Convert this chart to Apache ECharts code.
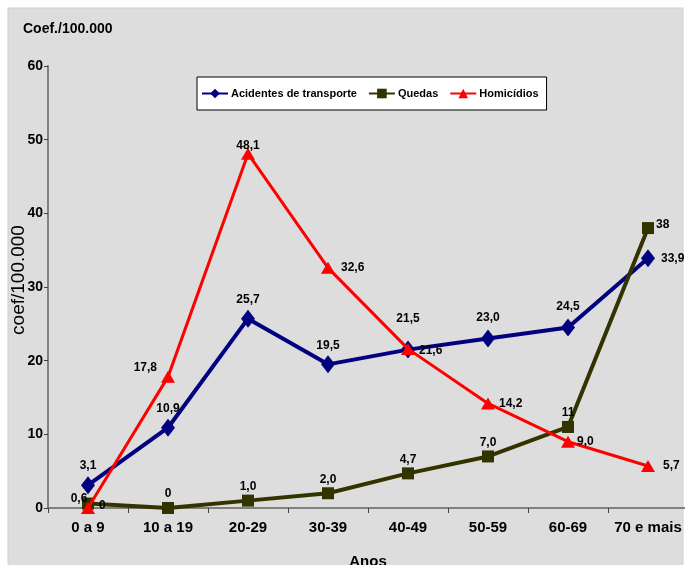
<!DOCTYPE html>
<html>
<head>
<meta charset="utf-8">
<script src="https://cdn.jsdelivr.net/npm/echarts@6/dist/echarts.min.js"></script>
<style>
  html, body { margin: 0; padding: 0; background: #ffffff; }
  #chart { width: 685px; height: 565px; }
</style>
</head>
<body>
<div id="chart"></div>
<script>
// Age groups
const categories = ['0 a 9', '10 a 19', '20-29', '30-39', '40-49', '50-59', '60-69', '70 e mais'];

// Rates per 100.000, as printed on each point
const acidentesLabels = ['3,1', '10,9', '25,7', '19,5', '21,5', '23,0', '24,5', '33,9'];
const quedasLabels = ['0,6', '0', '1,0', '2,0', '4,7', '7,0', '11', '38'];
const homicidiosLabels = ['0', '17,8', '48,1', '32,6', '21,6', '14,2', '9,0', '5,7'];

// Y axis ticks
const yTicks = [0, 10, 20, 30, 40, 50, 60];

const toNumber = s => parseFloat(s.replace(',', '.'));
const acidentes = acidentesLabels.map(toNumber);
const quedas = quedasLabels.map(toNumber);
const homicidios = homicidiosLabels.map(toNumber);

const FONT = "'Liberation Sans Narrow', 'Arial Narrow', 'Liberation Sans', Arial, sans-serif";

function buildData(values, labels, placement) {
  return values.map((v, i) => {
    const p = placement[i] || {};
    return {
      value: v,
      label: Object.assign({ formatter: labels[i] }, p)
    };
  });
}

const labelBase = {
  show: true,
  color: '#000000',
  fontFamily: FONT,
  fontWeight: 'bold',
  fontSize: 12
};

const acidentesPlace = [
  { position: 'top', distance: 4 },
  { position: 'top', distance: 4 },
  { position: 'top', distance: 4 },
  { position: 'top', distance: 4 },
  { position: 'top', distance: 16 },
  { position: 'top', distance: 6 },
  { position: 'top', distance: 6 },
  { position: 'right', distance: 6 }
];
const quedasPlace = [
  { position: 'top', distance: 2, offset: [-9, 9] },
  { position: 'top', distance: 2 },
  { position: 'top', distance: 2 },
  { position: 'top', distance: 2 },
  { position: 'top', distance: 2 },
  { position: 'top', distance: 2 },
  { position: 'top', distance: 2 },
  { position: 'right', distance: 2, offset: [0, -3] }
];
const homicidiosPlace = [
  { position: 'right', distance: 4, offset: [0, -2] },
  { position: 'left', distance: 4, offset: [0, -9] },
  { position: 'top', distance: -4 },
  { position: 'right', distance: 6 },
  { position: 'right', distance: 4, offset: [0, 2] },
  { position: 'right', distance: 4 },
  { position: 'right', distance: 2 },
  { position: 'right', distance: 8 }
];

const chart = echarts.init(document.getElementById('chart'), null, { renderer: 'canvas' });

chart.setOption({
  animation: false,
  backgroundColor: '#ffffff',
  textStyle: { fontFamily: FONT },
  graphic: [
    {
      type: 'rect',
      z: -10,
      shape: { x: 8, y: 8, width: 675, height: 560 },
      style: { fill: '#dddddd', stroke: '#cfcfcf', lineWidth: 1 }
    },
    {
      type: 'text',
      left: 23,
      top: 22,
      style: {
        text: 'Coef./100.000',
        fill: '#000000',
        font: 'bold 14px ' + FONT
      }
    }
  ],
  legend: {
    left: 197,
    top: 77,
    padding: [11, 8, 11, 4],
    itemGap: 11,
    itemWidth: 26,
    itemHeight: 12,
    backgroundColor: '#ffffff',
    borderColor: '#000000',
    borderWidth: 1,
    borderRadius: 0,
    textStyle: {
      color: '#000000',
      fontFamily: FONT,
      fontWeight: 'bold',
      fontSize: 11,
      padding: [0, 0, 0, -2]
    },
    data: ['Acidentes de transporte', 'Quedas', 'Homicídios']
  },
  grid: {
    left: 48,
    right: -3,
    top: 66,
    bottom: 57,
    containLabel: false,
    outerBoundsMode: 'none'
  },
  xAxis: {
    type: 'category',
    data: categories,
    boundaryGap: true,
    name: 'Anos',
    nameLocation: 'middle',
    nameGap: 46,
    nameTextStyle: {
      color: '#000000',
      fontFamily: FONT,
      fontWeight: 'bold',
      fontSize: 15
    },
    axisLine: { lineStyle: { color: '#808080', width: 2 } },
    axisTick: { show: true, inside: false, length: 5, lineStyle: { color: '#404040', width: 1 } },
    axisLabel: {
      interval: 0,
      color: '#000000',
      fontFamily: FONT,
      fontWeight: 'bold',
      fontSize: 15,
      margin: 12
    },
    splitLine: { show: false }
  },
  yAxis: {
    type: 'value',
    min: yTicks[0],
    max: yTicks[yTicks.length - 1],
    interval: yTicks[1] - yTicks[0],
    name: 'coef/100.000',
    nameLocation: 'middle',
    nameGap: 20,
    nameMoveOverlap: false,
    nameRotate: 90,
    nameTextStyle: {
      color: '#000000',
      fontFamily: "'Liberation Sans', Arial, sans-serif",
      fontSize: 19,
      padding: [0, 0, 0, 14]
    },
    axisLine: { show: true, lineStyle: { color: '#808080', width: 2 } },
    axisTick: { show: true, inside: false, length: 4, lineStyle: { color: '#404040', width: 1 } },
    axisLabel: {
      color: '#000000',
      fontFamily: FONT,
      fontWeight: 'bold',
      fontSize: 14,
      margin: 5
    },
    splitLine: { show: false }
  },
  series: [
    {
      name: 'Acidentes de transporte',
      type: 'line',
      z: 3,
      data: buildData(acidentes, acidentesLabels, acidentesPlace),
      symbol: 'diamond',
      symbolSize: [14, 18],
      itemStyle: { color: '#000080' },
      lineStyle: { color: '#000080', width: 4 },
      label: labelBase
    },
    {
      name: 'Quedas',
      type: 'line',
      z: 4,
      data: buildData(quedas, quedasLabels, quedasPlace),
      symbol: 'rect',
      symbolSize: 12,
      itemStyle: { color: '#333300' },
      lineStyle: { color: '#333300', width: 4 },
      label: labelBase
    },
    {
      name: 'Homicídios',
      type: 'line',
      z: 5,
      data: buildData(homicidios, homicidiosLabels, homicidiosPlace),
      symbol: 'triangle',
      symbolSize: [14, 12],
      itemStyle: { color: '#ff0000' },
      lineStyle: { color: '#ff0000', width: 3 },
      label: labelBase
    }
  ]
});
</script>
</body>
</html>
